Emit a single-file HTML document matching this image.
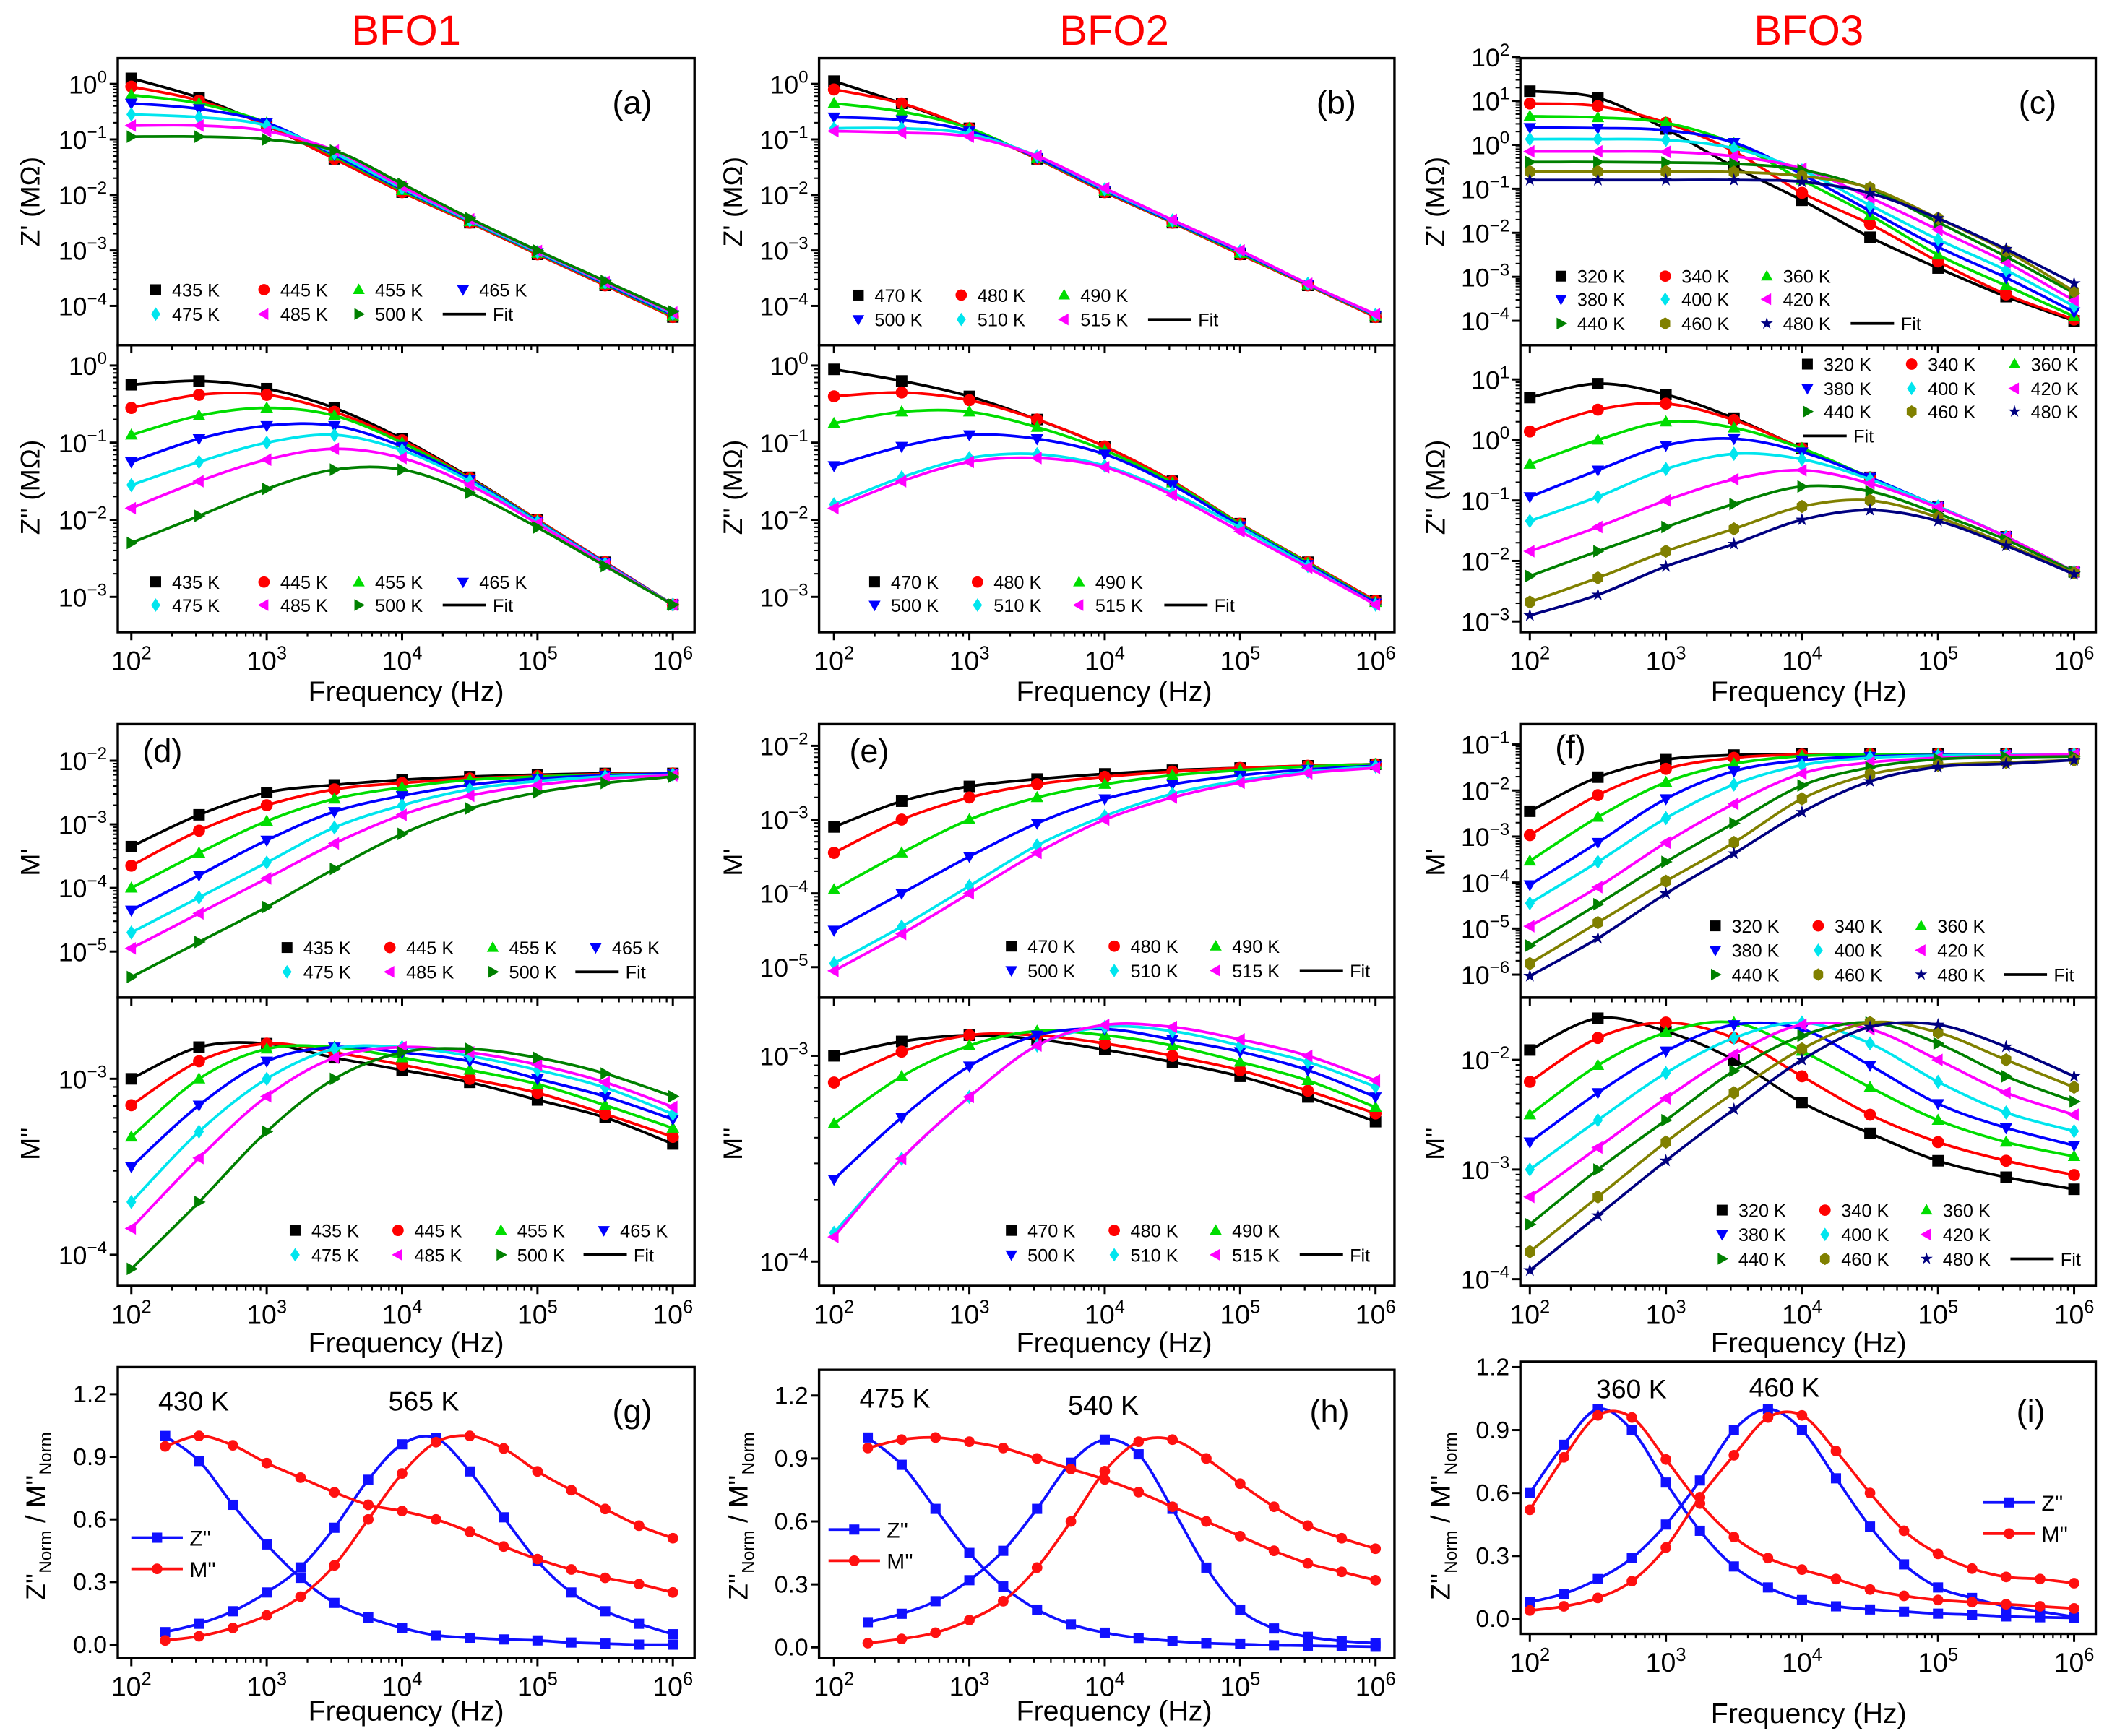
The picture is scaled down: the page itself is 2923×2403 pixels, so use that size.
<!DOCTYPE html>
<html><head><meta charset="utf-8"><style>
html,body{margin:0;padding:0;background:#fff;}
svg{display:block;font-family:"Liberation Sans",Arial,sans-serif;}
</style></head><body>
<svg id="fig" xmlns="http://www.w3.org/2000/svg" width="2923" height="2403" viewBox="0 0 1560 1282.5" preserveAspectRatio="none">
<rect width="1560" height="1282.5" fill="#fff"/>
<text x="300" y="33" font-size="31" fill="#f00" text-anchor="middle">BFO1</text>
<text x="823" y="33" font-size="31" fill="#f00" text-anchor="middle">BFO2</text>
<text x="1336" y="33" font-size="31" fill="#f00" text-anchor="middle">BFO3</text>
<g id="plots"></g>
</svg>
<script>
// ---------- data (log10 values unless noted) ----------
const freqH = [2,2.5,3,3.5,4,4.5,5,5.5,6];
const freqQ = [2.25,2.5,2.75,3,3.25,3.5,3.75,4,4.25,4.5,4.75,5,5.25,5.5,5.75,6];
const freqI = [2,2.25,2.5,2.75,3,3.25,3.5,3.75,4,4.25,4.5,4.75,5,5.25,5.5,5.75,6];
const temps1 = ['435 K','445 K','455 K','465 K','475 K','485 K','500 K'];
const temps2 = ['470 K','480 K','490 K','500 K','510 K','515 K'];
const temps3 = ['320 K','340 K','360 K','380 K','400 K','420 K','440 K','460 K','480 K'];
const zRe1 = [
 [0.1,-0.25,-0.75,-1.35,-1.95,-2.5,-3.07,-3.63,-4.2],
 [-0.05,-0.3,-0.75,-1.35,-1.95,-2.5,-3.07,-3.63,-4.2],
 [-0.2,-0.35,-0.7,-1.3,-1.92,-2.48,-3.05,-3.61,-4.18],
 [-0.35,-0.45,-0.7,-1.28,-1.9,-2.47,-3.04,-3.6,-4.16],
 [-0.55,-0.6,-0.75,-1.25,-1.88,-2.46,-3.03,-3.58,-4.14],
 [-0.75,-0.75,-0.85,-1.2,-1.85,-2.44,-3.01,-3.57,-4.12],
 [-0.95,-0.95,-1.0,-1.2,-1.8,-2.42,-3.0,-3.55,-4.1]];
const zIm1 = [
 [-0.25,-0.2,-0.3,-0.55,-0.95,-1.45,-2.0,-2.55,-3.1],
 [-0.55,-0.38,-0.38,-0.6,-0.97,-1.46,-2.0,-2.55,-3.1],
 [-0.9,-0.65,-0.55,-0.65,-1.0,-1.47,-2.01,-2.56,-3.1],
 [-1.25,-0.95,-0.78,-0.78,-1.05,-1.48,-2.02,-2.56,-3.1],
 [-1.55,-1.25,-1.0,-0.9,-1.1,-1.5,-2.03,-2.57,-3.1],
 [-1.85,-1.5,-1.22,-1.08,-1.2,-1.55,-2.05,-2.58,-3.1],
 [-2.3,-1.95,-1.6,-1.35,-1.35,-1.65,-2.1,-2.6,-3.1]];
const zRe2 = [
 [0.05,-0.35,-0.8,-1.35,-1.95,-2.5,-3.07,-3.63,-4.2],
 [-0.1,-0.35,-0.8,-1.35,-1.95,-2.5,-3.07,-3.63,-4.2],
 [-0.35,-0.5,-0.8,-1.34,-1.93,-2.49,-3.05,-3.62,-4.18],
 [-0.6,-0.65,-0.85,-1.33,-1.92,-2.48,-3.03,-3.61,-4.17],
 [-0.8,-0.8,-0.9,-1.3,-1.9,-2.46,-3.01,-3.6,-4.16],
 [-0.85,-0.88,-0.95,-1.3,-1.88,-2.45,-3.0,-3.6,-4.15]];
const zIm2 = [
 [-0.05,-0.2,-0.4,-0.7,-1.05,-1.5,-2.05,-2.55,-3.05],
 [-0.4,-0.35,-0.45,-0.7,-1.05,-1.5,-2.05,-2.55,-3.05],
 [-0.75,-0.6,-0.6,-0.8,-1.1,-1.52,-2.06,-2.56,-3.07],
 [-1.3,-1.05,-0.9,-0.95,-1.15,-1.55,-2.08,-2.58,-3.08],
 [-1.8,-1.45,-1.2,-1.15,-1.3,-1.65,-2.1,-2.6,-3.1],
 [-1.85,-1.5,-1.25,-1.2,-1.32,-1.68,-2.15,-2.62,-3.1]];
const zRe3 = [
 [1.22,1.07,0.36,-0.5,-1.26,-2.1,-2.8,-3.45,-4.0],
 [0.94,0.88,0.5,-0.15,-1.09,-1.8,-2.65,-3.4,-3.97],
 [0.65,0.62,0.5,0.03,-0.8,-1.6,-2.5,-3.2,-3.9],
 [0.39,0.38,0.33,0.05,-0.67,-1.5,-2.32,-3.02,-3.8],
 [0.13,0.13,0.11,-0.08,-0.58,-1.37,-2.15,-2.85,-3.67],
 [-0.15,-0.15,-0.16,-0.26,-0.54,-1.2,-1.93,-2.67,-3.54],
 [-0.39,-0.39,-0.4,-0.43,-0.57,-1.0,-1.76,-2.54,-3.37],
 [-0.61,-0.61,-0.61,-0.62,-0.71,-0.98,-1.67,-2.41,-3.33],
 [-0.8,-0.8,-0.8,-0.8,-0.84,-1.1,-1.67,-2.37,-3.15]];
const zIm3 = [
 [0.7,0.93,0.75,0.36,-0.14,-0.62,-1.1,-1.6,-2.18],
 [0.14,0.5,0.6,0.33,-0.14,-0.62,-1.1,-1.6,-2.18],
 [-0.4,0.0,0.3,0.2,-0.14,-0.62,-1.1,-1.6,-2.18],
 [-0.94,-0.5,-0.09,0.02,-0.2,-0.62,-1.1,-1.6,-2.18],
 [-1.34,-0.94,-0.48,-0.23,-0.32,-0.65,-1.1,-1.6,-2.18],
 [-1.84,-1.44,-1.0,-0.65,-0.5,-0.72,-1.12,-1.6,-2.18],
 [-2.25,-1.84,-1.44,-1.06,-0.77,-0.85,-1.22,-1.65,-2.18],
 [-2.68,-2.28,-1.84,-1.47,-1.1,-1.0,-1.28,-1.72,-2.2],
 [-2.9,-2.56,-2.09,-1.72,-1.32,-1.16,-1.34,-1.75,-2.22]];
const mRe1 = [
 [-3.35,-2.85,-2.5,-2.38,-2.3,-2.25,-2.22,-2.2,-2.2],
 [-3.65,-3.1,-2.7,-2.45,-2.35,-2.28,-2.24,-2.21,-2.2],
 [-4.0,-3.45,-2.95,-2.6,-2.42,-2.3,-2.25,-2.22,-2.2],
 [-4.35,-3.8,-3.25,-2.8,-2.55,-2.38,-2.28,-2.23,-2.2],
 [-4.7,-4.15,-3.6,-3.05,-2.7,-2.45,-2.32,-2.25,-2.22],
 [-4.95,-4.4,-3.85,-3.3,-2.85,-2.55,-2.38,-2.28,-2.23],
 [-5.4,-4.85,-4.3,-3.7,-3.15,-2.75,-2.5,-2.35,-2.25]];
const mIm1 = [
 [-3.0,-2.82,-2.8,-2.88,-2.95,-3.02,-3.12,-3.22,-3.37],
 [-3.15,-2.9,-2.8,-2.85,-2.92,-3.0,-3.08,-3.2,-3.33],
 [-3.33,-3.0,-2.83,-2.82,-2.88,-2.95,-3.03,-3.15,-3.28],
 [-3.5,-3.15,-2.9,-2.82,-2.85,-2.9,-3.0,-3.1,-3.23],
 [-3.7,-3.3,-3.0,-2.83,-2.82,-2.87,-2.95,-3.05,-3.2],
 [-3.85,-3.45,-3.1,-2.88,-2.82,-2.85,-2.92,-3.02,-3.16],
 [-4.08,-3.7,-3.3,-3.0,-2.85,-2.83,-2.88,-2.97,-3.1]];
const mRe2 = [
 [-3.1,-2.75,-2.55,-2.45,-2.38,-2.33,-2.3,-2.27,-2.25],
 [-3.45,-3.0,-2.7,-2.52,-2.42,-2.35,-2.3,-2.27,-2.25],
 [-3.95,-3.45,-3.0,-2.7,-2.52,-2.4,-2.33,-2.28,-2.25],
 [-4.5,-4.0,-3.5,-3.05,-2.72,-2.52,-2.4,-2.32,-2.27],
 [-4.95,-4.45,-3.9,-3.35,-2.95,-2.65,-2.47,-2.35,-2.28],
 [-5.05,-4.55,-4.0,-3.45,-3.0,-2.7,-2.5,-2.37,-2.3]];
const mIm2 = [
 [-3.0,-2.93,-2.9,-2.92,-2.97,-3.03,-3.1,-3.2,-3.32],
 [-3.13,-2.98,-2.9,-2.9,-2.94,-3.0,-3.07,-3.17,-3.28],
 [-3.33,-3.1,-2.95,-2.88,-2.9,-2.95,-3.03,-3.12,-3.25],
 [-3.6,-3.3,-3.05,-2.9,-2.87,-2.92,-2.98,-3.07,-3.2],
 [-3.86,-3.5,-3.2,-2.95,-2.86,-2.88,-2.95,-3.03,-3.15],
 [-3.88,-3.5,-3.2,-2.95,-2.85,-2.86,-2.92,-3.0,-3.12]];
const mRe3 = [
 [-2.45,-1.71,-1.33,-1.23,-1.21,-1.21,-1.21,-1.21,-1.21],
 [-2.97,-2.1,-1.53,-1.29,-1.22,-1.21,-1.21,-1.21,-1.21],
 [-3.53,-2.58,-1.82,-1.42,-1.25,-1.22,-1.21,-1.21,-1.21],
 [-4.05,-3.13,-2.18,-1.58,-1.34,-1.26,-1.23,-1.22,-1.21],
 [-4.45,-3.55,-2.6,-1.87,-1.45,-1.29,-1.24,-1.22,-1.21],
 [-4.95,-4.1,-3.13,-2.29,-1.63,-1.39,-1.29,-1.24,-1.22],
 [-5.37,-4.47,-3.55,-2.71,-1.89,-1.5,-1.32,-1.28,-1.26],
 [-5.76,-4.87,-3.97,-3.13,-2.18,-1.65,-1.45,-1.39,-1.34],
 [-6.03,-5.21,-4.24,-3.37,-2.47,-1.8,-1.49,-1.42,-1.34]];
const mIm3 = [
 [-1.91,-1.62,-1.74,-2.0,-2.39,-2.67,-2.92,-3.07,-3.18],
 [-2.2,-1.8,-1.66,-1.8,-2.15,-2.5,-2.75,-2.92,-3.05],
 [-2.5,-2.05,-1.75,-1.66,-1.92,-2.25,-2.55,-2.75,-2.88],
 [-2.75,-2.3,-1.92,-1.68,-1.72,-2.05,-2.4,-2.62,-2.78],
 [-3.0,-2.55,-2.12,-1.8,-1.66,-1.85,-2.2,-2.48,-2.65],
 [-3.25,-2.8,-2.35,-1.95,-1.68,-1.72,-2.0,-2.3,-2.5],
 [-3.5,-3.0,-2.55,-2.1,-1.78,-1.66,-1.85,-2.15,-2.38],
 [-3.75,-3.25,-2.75,-2.3,-1.9,-1.66,-1.75,-2.0,-2.25],
 [-3.92,-3.42,-2.92,-2.45,-2.0,-1.7,-1.68,-1.88,-2.15]];
// normalised (linear) curves
const gZlow  = [1.0,0.88,0.67,0.48,0.32,0.2,0.13,0.08,0.045,0.033,0.025,0.02,0.01,0.005,0.0,0.0];
const gZhigh = [0.06,0.1,0.16,0.25,0.37,0.56,0.79,0.96,0.99,0.83,0.61,0.4,0.25,0.16,0.1,0.05];
const gMlow  = [0.95,1.0,0.955,0.87,0.8,0.73,0.67,0.64,0.6,0.54,0.47,0.41,0.36,0.32,0.29,0.25];
const gMhigh = [0.02,0.04,0.08,0.14,0.23,0.38,0.6,0.82,0.97,1.0,0.94,0.83,0.74,0.65,0.57,0.51];
const hZlow  = [1.0,0.87,0.66,0.45,0.29,0.18,0.11,0.07,0.045,0.03,0.02,0.015,0.01,0.008,0.005,0.003];
const hZhigh = [0.12,0.16,0.22,0.32,0.46,0.66,0.88,0.99,0.92,0.66,0.38,0.18,0.09,0.05,0.03,0.02];
const hMlow  = [0.95,0.99,1.0,0.98,0.95,0.9,0.85,0.8,0.74,0.67,0.6,0.53,0.46,0.4,0.36,0.32];
const hMhigh = [0.02,0.04,0.07,0.13,0.22,0.38,0.6,0.84,0.98,0.99,0.9,0.78,0.67,0.58,0.52,0.47];
const iZlow  = [0.6,0.83,1.0,0.9,0.65,0.42,0.25,0.15,0.09,0.06,0.045,0.035,0.025,0.02,0.012,0.008,0.005];
const iZhigh = [0.08,0.12,0.19,0.29,0.45,0.66,0.9,1.0,0.9,0.67,0.44,0.26,0.15,0.1,0.06,0.035,0.01];
const iMlow  = [0.52,0.77,0.97,0.96,0.76,0.55,0.39,0.29,0.235,0.19,0.14,0.11,0.09,0.08,0.07,0.06,0.05];
const iMhigh = [0.04,0.06,0.1,0.18,0.34,0.58,0.78,0.96,0.97,0.8,0.6,0.42,0.31,0.24,0.2,0.19,0.17];
const linTicks = ['0.0','0.3','0.6','0.9','1.2'];

// ---------- drawing ----------
const NS='http://www.w3.org/2000/svg';
const root=document.getElementById('plots');
const COLORS=['#000000','#ff0000','#00dd00','#0000ff','#00e5ee','#ff00ff','#008000','#808000','#000080'];
const SHAPES=['square','circle','up','down','diamond','left','right','hex','star'];
function mk(tag,attrs,parent){const e=document.createElementNS(NS,tag);for(const k in attrs)e.setAttribute(k,attrs[k]);(parent||root).appendChild(e);return e;}
function marker(shape,cx,cy,s,color,parent){
  let e; const r=s/2;
  if(shape==='square'){e=mk('rect',{x:cx-r,y:cy-r,width:s,height:s,fill:color},parent);}
  else if(shape==='circle'){e=mk('circle',{cx:cx,cy:cy,r:r*1.05,fill:color},parent);}
  else{
    let pts=[];
    if(shape==='up')pts=[[0,-r*1.15],[r*1.1,r*0.8],[-r*1.1,r*0.8]];
    else if(shape==='down')pts=[[0,r*1.15],[r*1.1,-r*0.8],[-r*1.1,-r*0.8]];
    else if(shape==='left')pts=[[-r*1.15,0],[r*0.8,-r*1.1],[r*0.8,r*1.1]];
    else if(shape==='right')pts=[[r*1.15,0],[-r*0.8,-r*1.1],[-r*0.8,r*1.1]];
    else if(shape==='diamond')pts=[[0,-r*1.25],[r*0.85,0],[0,r*1.25],[-r*0.85,0]];
    else if(shape==='hex'){for(let k=0;k<6;k++){const a=Math.PI/6+k*Math.PI/3;pts.push([r*1.05*Math.cos(a),r*1.15*Math.sin(a)]);}}
    else if(shape==='star'){for(let k=0;k<10;k++){const a=-Math.PI/2+k*Math.PI/5;const rr=k%2?r*0.45:r*1.2;pts.push([rr*Math.cos(a),rr*Math.sin(a)]);}}
    e=mk('polygon',{points:pts.map(p=>(cx+p[0]).toFixed(2)+','+(cy+p[1]).toFixed(2)).join(' '),fill:color},parent);
  }
  return e;
}
function smoothPath(pts){
  let d='M'+pts[0][0].toFixed(2)+','+pts[0][1].toFixed(2);
  for(let i=0;i<pts.length-1;i++){
    const p0=pts[Math.max(0,i-1)],p1=pts[i],p2=pts[i+1],p3=pts[Math.min(pts.length-1,i+2)];
    const c1=[p1[0]+(p2[0]-p0[0])/6,p1[1]+(p2[1]-p0[1])/6];
    const c2=[p2[0]-(p3[0]-p1[0])/6,p2[1]-(p3[1]-p1[1])/6];
    d+=' C'+c1[0].toFixed(2)+','+c1[1].toFixed(2)+' '+c2[0].toFixed(2)+','+c2[1].toFixed(2)+' '+p2[0].toFixed(2)+','+p2[1].toFixed(2);
  }
  return d;
}
function pow10Label(x,y,exp,anchor,parent,size){
  size=size||19;
  const t=mk('text',{x:x,y:y,'font-size':size,'text-anchor':anchor,fill:'#000'},parent);
  
  
  t.appendChild(document.createTextNode('10'));
  const s=mk('tspan',{dy:-8,'font-size':size*0.68},t);
  s.textContent=String(exp).replace('-','\u2212');
  return t;
}
function drawPanel(p){
  const g=mk('g',{});
  
  
  const X=v=>p.xA+(v-2)*p.xs;
  const Y=p.log?(v=>p.yRef+(p.vRef-v)*p.ppd):(v=>p.yRef-(v/0.3)*p.ppd);
  const fr=mk('rect',{x:p.x0,y:p.y0,width:p.x1-p.x0,height:p.y1-p.y0,fill:'none',stroke:'#000','stroke-width':1.8},g);
  
  
  for(let d=2;d<=6;d++){
    mk('line',{x1:X(d),x2:X(d),y1:p.y1,y2:p.y1+6,stroke:'#000','stroke-width':1.6},g);
    if(d<6)for(let k=2;k<=9;k++){const xx=X(d+Math.log10(k));mk('line',{x1:xx,x2:xx,y1:p.y1,y2:p.y1+3.5,stroke:'#000','stroke-width':1.2},g);}
    if(p.xlab)pow10Label(X(d),p.y1+28,d,'middle',g,20);
  }
  if(p.log){
    for(let e=p.yTop;e>=p.yBot;e--){
      const yy=Y(e);
      mk('line',{x1:p.x0-6,x2:p.x0,y1:yy,y2:yy,stroke:'#000','stroke-width':1.6},g);
      pow10Label(p.x0-8,yy+7,e,'end',g,19);
      if(e>p.yBot)for(let k=2;k<=9;k++){const y2=Y(e-1+Math.log10(k));if(y2>p.y0&&y2<p.y1)mk('line',{x1:p.x0-3.5,x2:p.x0,y1:y2,y2:y2,stroke:'#000','stroke-width':1.1},g);}
    }
  }else{
    linTicks.forEach((lab,i)=>{const yy=Y(i*0.3);
      mk('line',{x1:p.x0-6,x2:p.x0,y1:yy,y2:yy,stroke:'#000','stroke-width':1.6},g);
      const t=mk('text',{x:p.x0-8,y:yy+6,'font-size':18,'text-anchor':'end'},g);
      
      
      t.textContent=lab;});
  }
  p.series.forEach((ser)=>{
    const col=ser.color, pts=ser.vals.map((v,i)=>[X(ser.freq[i]),Y(v)]);
    const path=mk('path',{d:smoothPath(pts),fill:'none',stroke:col,'stroke-width':2},g);
    
    
    pts.forEach(pt=>{const m=marker(ser.shape,pt[0],pt[1],ser.size||8.5,col,g);
      
      });
  });
  if(p.legend){
    const L=p.legend;
    const lg=mk('g',{},g);
    
    
    L.labels.forEach((lab,i)=>{
      const x=L.xs[i%L.per],y=L.ys[Math.floor(i/L.per)];
      const m=marker(SHAPES[i],x,y,8,COLORS[i],lg);
      
      
      const t=mk('text',{x:x+12,y:y+5,'font-size':13.5},lg);
      
      
      t.textContent=lab;
    });
    mk('line',{x1:L.fit[0],x2:L.fit[0]+32,y1:L.fit[1],y2:L.fit[1],stroke:'#000','stroke-width':2},lg);
    const ft=mk('text',{x:L.fit[0]+37,y:L.fit[1]+5,'font-size':13.5},lg);
    
    
    ft.textContent='Fit';
  }
  return g;
}
function logSeries(arr){return arr.map((v,i)=>({vals:v,freq:freqH,color:COLORS[i],shape:SHAPES[i]}));}
const cols=[{x0:87,x1:513,xA:97,xs:100},{x0:605,x1:1030,xA:616,xs:100},{x0:1123,x1:1548,xA:1130,xs:100.5}];
const panels=[
 {name:'panel-a-zreal',c:0,y0:43,y1:255,yRef:62,vRef:0,ppd:41,yTop:0,yBot:-4,data:zRe1,temps:temps1,
  legend:{xs:[115,195,265,342],ys:[214,232],per:4,fit:[327,232]}},
 {name:'panel-a-zimag',c:0,y0:255,y1:467,yRef:270,vRef:0,ppd:57,yTop:0,yBot:-3,data:zIm1,temps:temps1,xlab:1,
  legend:{xs:[115,195,265,342],ys:[430,447],per:4,fit:[327,447]}},
 {name:'panel-b-zreal',c:1,y0:43,y1:255,yRef:62,vRef:0,ppd:41,yTop:0,yBot:-4,data:zRe2,temps:temps2,
  legend:{xs:[634,710,786],ys:[218,236],per:3,fit:[848,236]}},
 {name:'panel-b-zimag',c:1,y0:255,y1:467,yRef:270,vRef:0,ppd:57,yTop:0,yBot:-3,data:zIm2,temps:temps2,xlab:1,
  legend:{xs:[646,722,797],ys:[430,447],per:3,fit:[860,447]}},
 {name:'panel-c-zreal',c:2,y0:43,y1:255,yRef:107,vRef:0,ppd:32.5,yTop:2,yBot:-4,data:zRe3,temps:temps3,
  legend:{xs:[1153,1230,1305],ys:[204,221,239],per:3,fit:[1367,239]}},
 {name:'panel-c-zimag',c:2,y0:255,y1:467,yRef:325,vRef:0,ppd:44.7,yTop:1,yBot:-3,data:zIm3,temps:temps3,xlab:1,
  legend:{xs:[1335,1412,1488],ys:[269,287,304],per:3,fit:[1332,322]}},
 {name:'panel-d-mreal',c:0,y0:535,y1:737,yRef:562,vRef:-2,ppd:47,yTop:-2,yBot:-5,data:mRe1,temps:temps1,
  legend:{xs:[212,288,364,440],ys:[700,718],per:4,fit:[425,718]}},
 {name:'panel-d-mimag',c:0,y0:737,y1:950,yRef:797,vRef:-3,ppd:130,yTop:-3,yBot:-4,data:mIm1,temps:temps1,xlab:1,
  legend:{xs:[218,294,370,446],ys:[909,927],per:4,fit:[431,927]}},
 {name:'panel-e-mreal',c:1,y0:535,y1:737,yRef:551,vRef:-2,ppd:54.5,yTop:-2,yBot:-5,data:mRe2,temps:temps2,
  legend:{xs:[747,823,898],ys:[699,717],per:3,fit:[960,717]}},
 {name:'panel-e-mimag',c:1,y0:737,y1:950,yRef:780,vRef:-3,ppd:152,yTop:-3,yBot:-4,data:mIm2,temps:temps2,xlab:1,
  legend:{xs:[747,823,898],ys:[909,927],per:3,fit:[960,927]}},
 {name:'panel-f-mreal',c:2,y0:535,y1:737,yRef:550,vRef:-1,ppd:34,yTop:-1,yBot:-6,data:mRe3,temps:temps3,
  legend:{xs:[1267,1343,1419],ys:[684,702,720],per:3,fit:[1480,720]}},
 {name:'panel-f-mimag',c:2,y0:737,y1:950,yRef:783,vRef:-2,ppd:81,yTop:-2,yBot:-4,data:mIm3,temps:temps3,xlab:1,
  legend:{xs:[1272,1348,1423],ys:[894,912,930],per:3,fit:[1485,930]}}
];
panels.forEach(pp=>{
  const c=cols[pp.c];
  drawPanel({name:pp.name,x0:c.x0,x1:c.x1,xA:c.xA,xs:c.xs,y0:pp.y0,y1:pp.y1,log:true,yRef:pp.yRef,vRef:pp.vRef,ppd:pp.ppd,
    yTop:pp.yTop,yBot:pp.yBot,xlab:pp.xlab,series:logSeries(pp.data),
    legend:{labels:pp.temps,xs:pp.legend.xs,ys:pp.legend.ys,per:pp.legend.per,fit:pp.legend.fit}});
});
const normPanels=[
 {name:'panel-g-normalized',c:0,y0:1010,y1:1225,yRef:1215,ppd:46.25,f:freqQ,d:[gZlow,gZhigh,gMlow,gMhigh]},
 {name:'panel-h-normalized',c:1,y0:1012,y1:1225,yRef:1217,ppd:46.5,f:freqQ,d:[hZlow,hZhigh,hMlow,hMhigh]},
 {name:'panel-i-normalized',c:2,y0:1006,y1:1207,yRef:1196,ppd:46.5,f:freqI,d:[iZlow,iZhigh,iMlow,iMhigh]}
];
normPanels.forEach(np=>{
  const c=cols[np.c];
  const ser=np.d.map((v,i)=>({vals:v,freq:np.f,color:i<2?'#1010ff':'#ff1010',shape:i<2?'square':'circle',size:7.5}));
  drawPanel({name:np.name,x0:c.x0,x1:c.x1,xA:c.xA,xs:c.xs,y0:np.y0,y1:np.y1,log:false,yRef:np.yRef,ppd:np.ppd,xlab:1,series:ser});
});
function txt(name,x,y,s,size,anchor,rot){
  const t=mk('text',{x:x,y:y,'font-size':size,'text-anchor':anchor||'start'});
  
  
  if(rot)t.setAttribute('transform','rotate(-90 '+x+' '+y+')');
  t.textContent=s;return t;
}
[['(a)',467,84],['(b)',987,84],['(c)',1505,84],['(d)',120,563],['(e)',642,563],['(f)',1160,560],['(g)',467,1051],['(h)',982,1051],['(i)',1500,1051]]
 .forEach(a=>txt('panel-label',a[1],a[2],a[0],24,'middle'));
[[0,300],[1,823],[2,1336]].forEach(a=>{
  txt('x-axis-title',a[1],518,'Frequency (Hz)',21,'middle');
  txt('x-axis-title',a[1],999,'Frequency (Hz)',21,'middle');
  txt('x-axis-title',a[1],a[0]==2?1273:1271,'Frequency (Hz)',21,'middle');
});
const yx=[29,548,1067];
yx.forEach(x=>{
  txt('y-axis-title-zreal',x,149,"Z' (M\u03A9)",20,'middle',1);
  txt('y-axis-title-zimag',x,360,"Z'' (M\u03A9)",20,'middle',1);
  txt('y-axis-title-mreal',x,637,"M'",20,'middle',1);
  txt('y-axis-title-mimag',x,845,"M''",20,'middle',1);
  const t=txt('y-axis-title-norm',x+4,1120,'',20,'middle',1);
  t.appendChild(document.createTextNode("Z''"));
  const s1=mk('tspan',{'font-size':13,dy:5},t);s1.textContent='Norm';
  const s2=mk('tspan',{dy:-5},t);s2.textContent=" / M''";
  const s3=mk('tspan',{'font-size':13,dy:5},t);s3.textContent='Norm';
});
[['430 K',143,1042],['565 K',313,1042],['475 K',661,1040],['540 K',815,1045],['360 K',1205,1033],['460 K',1318,1032]]
 .forEach(a=>txt('peak-temperature-label',a[1],a[2],a[0],20,'middle'));
[[97,1136],[612,1130],[1465,1110]].forEach(a=>{
  [["Z''",'#1010ff','square',0],["M''",'#ff1010','circle',23]].forEach(e=>{
    const y=a[1]+e[3];
    mk('line',{x1:a[0],x2:a[0]+38,y1:y,y2:y,stroke:e[1],'stroke-width':2});
    const m=marker(e[2],a[0]+19,y,7.5,e[1]);
    
    
    txt('legend-entry',a[0]+43,y+6,e[0],16,'start');
  });
});
</script>
</body></html>
